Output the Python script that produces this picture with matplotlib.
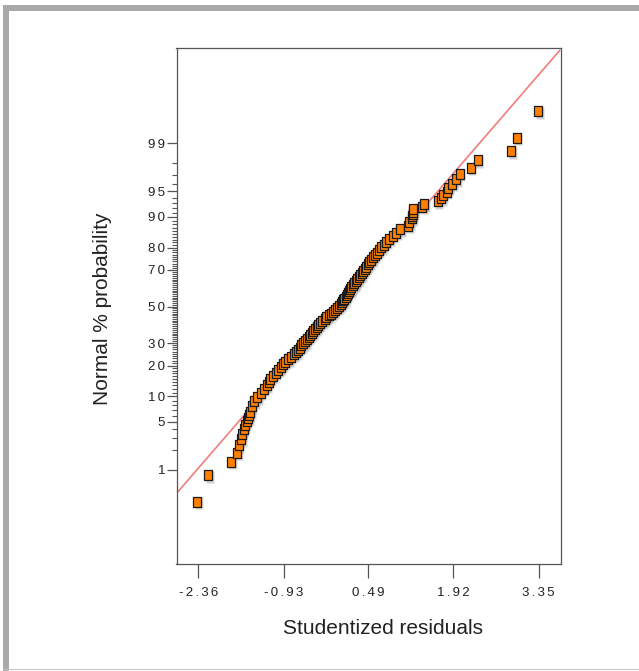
#!/usr/bin/env python3
"""Normal probability plot of studentized residuals."""

from statistics import NormalDist
import matplotlib
matplotlib.use("Agg")
import matplotlib.pyplot as plt
from matplotlib.path import Path
from matplotlib.patches import Rectangle
from matplotlib.transforms import offset_copy

plt.rcParams['font.family'] = ['Liberation Sans', 'DejaVu Sans']

# ---------- data ----------
# studentized residuals, sorted
residuals = [
    -2.38, -2.19, -1.81, -1.71, -1.68, -1.64, -1.63, -1.60, -1.58, -1.55,
    -1.52, -1.51,
    -1.49, -1.46, -1.42, -1.37, -1.31, -1.26, -1.21, -1.18, -1.15, -1.11,
    -1.06, -1.02, -0.98, -0.94, -0.90, -0.85, -0.81, -0.76, -0.72, -0.69,
    -0.66, -0.63, -0.60, -0.57, -0.54, -0.51, -0.48, -0.45, -0.43, -0.40,
    -0.37, -0.35, -0.32, -0.28, -0.24, -0.21, -0.17, -0.13, -0.10, -0.07,
    -0.04, 0.00, 0.03, 0.05, 0.07, 0.09, 0.11, 0.13, 0.15, 0.17,
    0.19, 0.21, 0.24, 0.26, 0.28, 0.31, 0.33, 0.36, 0.38, 0.41,
    0.43, 0.46, 0.48, 0.51, 0.54, 0.57, 0.60, 0.63, 0.67, 0.71,
    0.75, 0.79, 0.84, 0.90, 0.96, 1.03, 1.16, 1.18, 1.22,
    1.23, 1.24, 1.25, 1.25, 1.40, 1.43, 1.66, 1.72, 1.74, 1.81,
    1.83, 1.90, 1.97, 2.03, 2.21, 2.33, 2.89, 2.98, 3.34,
]

# normal % probability of each point
normal_pct = [
    0.27, 0.80, 1.33, 1.86, 2.39, 2.93, 3.46, 3.99, 4.52, 5.05,
    5.59, 6.12,
    6.65, 7.71, 8.78, 9.84, 10.90, 11.97, 13.03, 14.10, 15.16, 16.22,
    17.29, 18.35, 19.41, 20.48, 21.54, 22.61, 23.67, 24.73, 25.80, 26.86,
    27.93, 28.99, 30.05, 31.12, 32.18, 33.24, 34.31, 35.37, 36.44, 37.50,
    38.56, 39.63, 40.69, 41.76, 42.82, 43.88, 44.95, 46.01, 47.07, 48.14,
    49.20, 50.27, 51.33, 52.39, 53.46, 54.52, 55.59, 56.65, 57.71, 58.78,
    59.84, 60.90, 61.97, 63.03, 64.10, 65.16, 66.22, 67.29, 68.35, 69.41,
    70.48, 71.54, 72.61, 73.67, 74.73, 75.80, 76.86, 77.93, 78.99, 80.05,
    81.12, 82.18, 83.24, 84.31, 85.37, 86.44, 87.50, 88.56, 89.63,
    90.16, 90.69, 91.22, 91.76, 92.29, 92.82, 93.35, 93.88, 94.41, 94.95,
    95.48, 96.01, 96.54, 97.07, 97.61, 98.14, 98.67, 99.20, 99.73,
]

# reference line (normal score vs residual)
line_x = [-2.72, 3.71]
line_z = [-2.66, 3.66]

x_ticks = [-2.36, -0.93, 0.49, 1.92, 3.35]
y_major_pct = [1, 5, 10, 20, 30, 50, 70, 80, 90, 95, 99]
y_minor_pct = [p for p in range(2, 99) if p not in y_major_pct]

# ---------- helpers ----------
nd = NormalDist()


def zscore(pcts):
    return [nd.inv_cdf(p / 100.0) for p in pcts]


def spaced(s):
    # tick labels in the original are drawn with loose letter spacing
    return "\u2006".join(s)


# ---------- figure ----------
fig = plt.figure(figsize=(6.39, 6.71), dpi=100)
W, H = 639.0, 671.0

# grey page frame
fig.patches.append(Rectangle((3 / W, 1 - 11 / H), 1, 6 / H, transform=fig.transFigure,
                             facecolor="#a9a9ab", edgecolor="none", zorder=0))
fig.patches.append(Rectangle((3 / W, 0), 6 / W, 1 - 5 / H, transform=fig.transFigure,
                             facecolor="#a9a9ab", edgecolor="none", zorder=0))
fig.patches.append(Rectangle((3 / W, 1 / H), 1, 1.5 / H, transform=fig.transFigure,
                             facecolor="#c4c4c6", edgecolor="none", zorder=0))

ax = fig.add_axes([176.5 / W, 1 - 564 / H, (560.7 - 176.5) / W, (564 - 48) / H])

zs = zscore(normal_pct)

# red fit line
ax.plot(line_x, line_z, color="#f47c7c", lw=1.2, zorder=2, solid_capstyle="butt")

# tall rectangular markers
box = Path([(-0.37, -0.5), (0.37, -0.5), (0.37, 0.5), (-0.37, 0.5), (-0.37, -0.5)],
           [Path.MOVETO, Path.LINETO, Path.LINETO, Path.LINETO, Path.CLOSEPOLY])

shadow = offset_copy(ax.transData, fig=fig, x=1.5, y=-1.5, units="dots")
ax.plot(residuals, zs, ls="none", marker=box, ms=8.0, mfc="#b4b4b4", mec="none",
        alpha=0.6, transform=shadow, zorder=3)
ax.plot(residuals, zs, ls="none", marker=box, ms=7.2, mfc="#ff8000",
        mec="#1a1a1a", mew=0.9, zorder=4)

ax.set_xlim(-2.726, 3.72)
ax.set_ylim(-3.673, 3.688)

ax.set_xticks(x_ticks)
ax.set_xticklabels([spaced(f"{t:.2f}") for t in x_ticks], fontsize=9.5, color="#222222")
ax.set_yticks(zscore(y_major_pct))
ax.set_yticklabels([spaced(str(p)) for p in y_major_pct], fontsize=9.5, color="#222222")
ax.set_yticks(zscore(y_minor_pct), minor=True)

ax.tick_params(axis="x", which="major", length=10, width=0.9, color="#555555", pad=6.5)
ax.tick_params(axis="y", which="major", length=7.2, width=0.9, color="#555555", pad=1)
ax.tick_params(axis="y", which="minor", length=3.6, width=0.8, color="#555555")

for sp in ax.spines.values():
    sp.set_color("#555555")
    sp.set_linewidth(0.9)

fig.text(383 / W, 1 - 628 / H, "Studentized residuals", fontsize=15, color="#222222",
         ha="center", va="center")
fig.text(103 / W, 1 - 309 / H, "Normal % probability", fontsize=15, color="#222222",
         ha="center", va="center", rotation=90)

fig.savefig("out.png", dpi=100, facecolor="white")
